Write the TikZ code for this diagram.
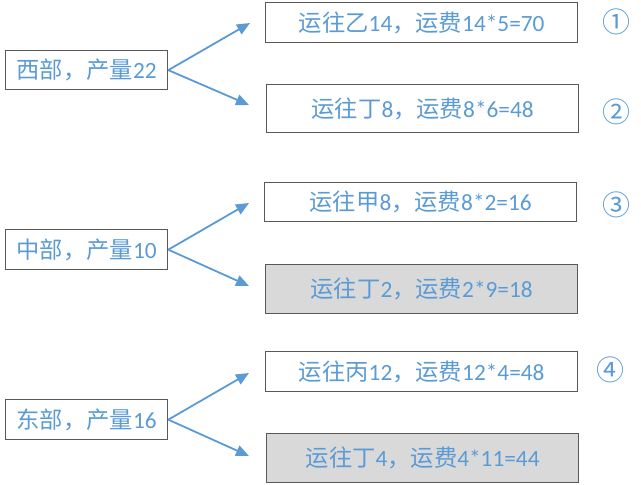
\documentclass[tikz,border=0pt]{standalone}
\usepackage{fontspec}
\setmainfont{Carlito}
\newfontfamily\cjk{Noto Sans CJK SC}
\usetikzlibrary{arrows.meta}
\definecolor{txtblue}{HTML}{5B9BD5}
\definecolor{boxgray}{HTML}{D9D9D9}
\definecolor{edgegray}{HTML}{595959}
\newcommand{\zh}[1]{{\cjk #1}}
\begin{document}
\begin{tikzpicture}[x=1pt,y=-1pt,
  box/.style={draw=edgegray,line width=1.3pt,text=txtblue,font=\fontsize{23.3}{26}\selectfont,inner sep=0pt,anchor=north west},
  src/.style={box},
  dst/.style={box,minimum width=312pt},
  grayfill/.style={fill=boxgray},
  num/.style={text=txtblue,font=\cjk\fontsize{28}{30}\selectfont,inner sep=0pt},
  arr/.style={draw=txtblue,line width=1.8pt,-{Triangle[length=13pt,width=11pt]}}]
\useasboundingbox (0,0) rectangle (641,485);
% left sources
\node[src,minimum width=162pt,minimum height=39pt] (w) at (5,50) {\zh{西部，产量}22};
\node[src,minimum width=162pt,minimum height=40pt] (m) at (5,229) {\zh{中部，产量}10};
\node[src,minimum width=162pt,minimum height=40pt] (e) at (5,399) {\zh{东部，产量}16};
% destinations
\node[dst,minimum height=40pt] (r1) at (265,2) {\zh{运往乙}14\zh{，运费}14*5=70};
\node[dst,minimum height=48pt] (r2) at (266,84) {\zh{运往丁}8\zh{，运费}8*6=48};
\node[dst,minimum height=39pt] (r3) at (264,182) {\zh{运往甲}8\zh{，运费}8*2=16};
\node[dst,grayfill,minimum height=49pt] (r4) at (265,264) {\zh{运往丁}2\zh{，运费}2*9=18};
\node[dst,minimum height=40pt] (r5) at (265,351) {\zh{运往丙}12\zh{，运费}12*4=48};
\node[dst,grayfill,minimum height=49pt] (r6) at (266,433) {\zh{运往丁}4\zh{，运费}4*11=44};
% circled numbers
\node[num] (n1) at (616,22) {①};
\node[num] (n2) at (616,112) {②};
\node[num] (n3) at (616,205) {③};
\node[num] (n4) at (610,370) {④};
% arrow tips
\coordinate (t1) at (250,23);
\coordinate (t2) at (249,105);
\coordinate (t3) at (249,203);
\coordinate (t4) at (249,286);
\coordinate (t5) at (249,373);
\coordinate (t6) at (249,456);
\draw[arr] (w.east) -- (t1);
\draw[arr] (w.east) -- (t2);
\draw[arr] (m.east) -- (t3);
\draw[arr] (m.east) -- (t4);
\draw[arr] (e.east) -- (t5);
\draw[arr] (e.east) -- (t6);
\end{tikzpicture}
\end{document}
